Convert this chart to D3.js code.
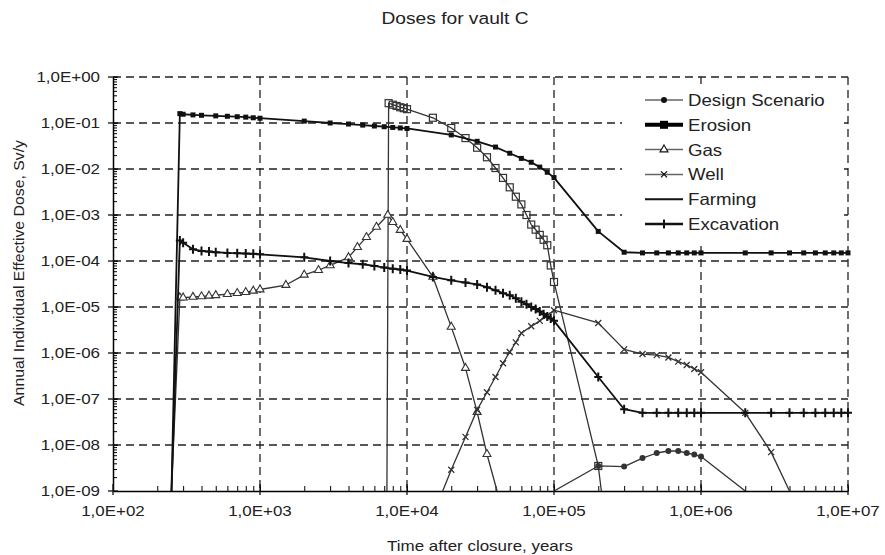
<!DOCTYPE html>
<html>
<head>
<meta charset="utf-8">
<script src="https://cdn.jsdelivr.net/npm/d3@7"></script>
<style>
  body { margin: 0; background: #fff; }
  text { font-family: "Liberation Sans", Arial, sans-serif; fill: #222; }
</style>
</head>
<body>
<script>
// time (years) vs annual dose (Sv/y)
const erosion = [[250,1e-9],[285,0.16],[300,0.155],[350,0.15],[400,0.147],[500,0.143],[600,0.14],[700,0.137],
  [800,0.134],[900,0.13],[1000,0.127],[2000,0.11],[3000,0.1],[4000,0.095],[5000,0.09],[6000,0.086],
  [7000,0.083],[8000,0.08],[9000,0.078],[1e4,0.076],[2e4,0.055],[3e4,0.04],[4e4,0.03],[5e4,0.022],
  [6e4,0.017],[7e4,0.014],[8e4,0.011],[9e4,0.0085],[1e5,0.0065],[2e5,4.4e-4],[3e5,1.55e-4],
  [4e5,1.5e-4],[5e5,1.5e-4],[6e5,1.5e-4],[7e5,1.5e-4],[8e5,1.5e-4],[9e5,1.5e-4],[1e6,1.5e-4],
  [2e6,1.5e-4],[3e6,1.5e-4],[4e6,1.5e-4],[5e6,1.5e-4],[6e6,1.5e-4],[7e6,1.5e-4],[8e6,1.5e-4],[9e6,1.5e-4],[1e7,1.5e-4]];

const farming = [[7300,1e-9],[7500,0.27],[8000,0.25],[8500,0.235],[9000,0.22],[9500,0.21],[1e4,0.2],
  [1.5e4,0.13],[2e4,0.078],[2.5e4,0.047],[3e4,0.029],[3.5e4,0.018],[4e4,0.0105],[4.5e4,0.0064],
  [5e4,0.004],[5.5e4,0.0025],[6e4,0.0017],[6.5e4,0.001],[7e4,6.2e-4],[7.5e4,4.8e-4],[8e4,3.7e-4],
  [8.5e4,2.9e-4],[9e4,2.2e-4],[9.5e4,8e-5],[1e5,3.5e-5],[2e5,3.5e-9],[2.1e5,1e-9]];

const gas = [[250,1e-9],[285,1.6e-5],[300,1.6e-5],[350,1.65e-5],[400,1.7e-5],[450,1.75e-5],[500,1.8e-5],
  [600,1.9e-5],[700,2e-5],[800,2.1e-5],[900,2.25e-5],[1000,2.4e-5],[1500,3e-5],[2000,5e-5],[2500,6.3e-5],
  [3000,8e-5],[4000,1.2e-4],[4600,2e-4],[5300,3.3e-4],[6200,5.5e-4],[7400,1e-3],[8000,7e-4],[9000,4.7e-4],
  [1e4,3e-4],[1.5e4,4.5e-5],[2e4,3.7e-6],[2.5e4,4.7e-7],[3e4,5.2e-8],[3.5e4,6.3e-9],[4.1e4,1e-9]];

const excavation = [[250,1e-9],[285,2.8e-4],[300,2.5e-4],[350,1.8e-4],[400,1.65e-4],[450,1.6e-4],[500,1.55e-4],
  [600,1.5e-4],[700,1.48e-4],[800,1.45e-4],[900,1.43e-4],[1000,1.4e-4],[2000,1.2e-4],[3000,1e-4],[4000,9e-5],
  [5000,8.5e-5],[6000,7.8e-5],[7000,7.2e-5],[8000,6.8e-5],[9000,6.5e-5],[1e4,6.2e-5],[1.5e4,4.5e-5],[2e4,3.8e-5],
  [2.5e4,3.4e-5],[3e4,3.1e-5],[3.5e4,2.7e-5],[4e4,2.3e-5],[4.5e4,2e-5],[5e4,1.8e-5],[5.5e4,1.55e-5],[6e4,1.3e-5],
  [6.5e4,1.15e-5],[7e4,1e-5],[7.5e4,9e-6],[8e4,8e-6],[8.5e4,7e-6],[9e4,6.2e-6],[9.5e4,5.6e-6],[1e5,5e-6],
  [2e5,3e-7],[3e5,6e-8],[4e5,5e-8],[5e5,5e-8],[6e5,5e-8],[7e5,5e-8],[8e5,5e-8],[9e5,5e-8],[1e6,5e-8],
  [2e6,5e-8],[3e6,5e-8],[4e6,5e-8],[5e6,5e-8],[6e6,5e-8],[7e6,5e-8],[8e6,5e-8],[9e6,5e-8],[1e7,5e-8]];

const well = [[1.75e4,1e-9],[2e4,2.9e-9],[2.5e4,1.5e-8],[3e4,5.8e-8],[3.5e4,1.4e-7],[4e4,3e-7],[4.5e4,6e-7],
  [5e4,1.05e-6],[5.5e4,1.7e-6],[6e4,2.7e-6],[7e4,3.8e-6],[8e4,5e-6],[9e4,6.5e-6],[1e5,8.5e-6],[2e5,4.5e-6],
  [3e5,1.2e-6],[4e5,9.5e-7],[5e5,9e-7],[6e5,8e-7],[7e5,6.5e-7],[8e5,5.5e-7],[9e5,4.5e-7],[1e6,3.8e-7],
  [2e6,5e-8],[3e6,7e-9],[4e6,1e-9]];

const design = [[1e5,1e-9],[2e5,3.5e-9],[3e5,3.4e-9],[4e5,5.2e-9],[5e5,6.7e-9],[6e5,7.4e-9],[7e5,7.4e-9],
  [8e5,6.7e-9],[9e5,6.2e-9],[1e6,5.6e-9],[2e6,1e-9]];

const legendNames = ["Design Scenario", "Erosion", "Gas", "Well", "Farming", "Excavation"];
const xTicks = [1e2, 1e3, 1e4, 1e5, 1e6, 1e7];
const yTicks = [1e0, 1e-1, 1e-2, 1e-3, 1e-4, 1e-5, 1e-6, 1e-7, 1e-8, 1e-9];

const width = 885, height = 555;
const mLeft = 113, mRight = 848, mTop = 77, mBottom = 491;

const svg = d3.select("body").append("svg")
    .attr("width", width)
    .attr("height", height);

const x = d3.scaleLog().domain([1e2, 1e7]).range([mLeft, mRight]);
const y = d3.scaleLog().domain([1e-9, 1]).range([mBottom, mTop]);

function fmt(v) {
    const e = Math.round(Math.log10(v));
    return "1,0E" + (e < 0 ? "-" : "+") + String(Math.abs(e)).padStart(2, "0");
}

// text is a bit wider than the font, so stretch it horizontally
function label(g, px, py, str, size, anchor, sx, rot) {
    const t = g.append("g")
        .attr("transform", `translate(${px},${py})` + (rot ? ` rotate(${rot})` : "") + ` scale(${sx},1)`);
    t.append("text")
        .attr("font-size", size)
        .attr("text-anchor", anchor)
        .text(str);
}

// grid
const grid = svg.append("g")
    .attr("stroke", "#222")
    .attr("stroke-width", 1.3)
    .attr("stroke-dasharray", "8,5");
yTicks.filter(v => v > 1e-9).forEach(v => {
    grid.append("line").attr("x1", mLeft).attr("x2", mRight).attr("y1", y(v)).attr("y2", y(v));
});
xTicks.filter(v => v > 1e2).forEach(v => {
    grid.append("line").attr("x1", x(v)).attr("x2", x(v)).attr("y1", mTop).attr("y2", mBottom);
});

// axes
const xAxis = d3.axisTop(x)
    .tickValues(d3.range(2, 7).flatMap(e => d3.range(1, 10).map(m => m * Math.pow(10, e))).concat([1e7]))
    .tickFormat("")
    .tickSize(5)
    .tickSizeOuter(0);
svg.append("g").attr("transform", `translate(0,${mBottom})`).call(xAxis)
    .call(g => g.select(".domain").attr("stroke-width", 1.5));
const yAxis = d3.axisRight(y)
    .tickValues(d3.range(-9, 0).flatMap(e => d3.range(1, 10).map(m => m * Math.pow(10, e))).concat([1]))
    .tickFormat("")
    .tickSize(4)
    .tickSizeOuter(0);
svg.append("g").attr("transform", `translate(${mLeft},0)`).call(yAxis)
    .call(g => g.select(".domain").attr("stroke-width", 1.5));

// major ticks and labels
const majors = svg.append("g").attr("stroke", "#111").attr("stroke-width", 1.3);
xTicks.forEach(v => {
    majors.append("line").attr("x1", x(v)).attr("x2", x(v)).attr("y1", mBottom - 7).attr("y2", mBottom + 4);
    label(svg, x(v), mBottom + 25, fmt(v), 15, "middle", 1.13);
});
yTicks.forEach(v => {
    majors.append("line").attr("x1", mLeft - 5).attr("x2", mLeft + 5).attr("y1", y(v)).attr("y2", y(v));
    label(svg, mLeft - 13, y(v) + 5, fmt(v), 15, "end", 1.13);
});

// series
const series = [
    {data: farming, color: "#333", w: 1.3, marker: "sqOpen"},
    {data: erosion, color: "#111", w: 1.8, marker: "sqFill"},
    {data: gas, color: "#333", w: 1.3, marker: "tri"},
    {data: well, color: "#333", w: 1.3, marker: "x"},
    {data: excavation, color: "#111", w: 1.8, marker: "plus"},
    {data: design, color: "#333", w: 1.3, marker: "dot"}
];

svg.append("clipPath").attr("id", "plot")
    .append("rect").attr("x", mLeft).attr("y", mTop - 5).attr("width", mRight - mLeft + 5).attr("height", mBottom - mTop + 5);

const line = d3.line().x(d => x(d[0])).y(d => y(d[1]));
const plot = svg.append("g").attr("clip-path", "url(#plot)");

function drawMarker(g, type, px, py, color) {
    if (type === "sqFill") {
        g.append("rect").attr("x", px - 2.5).attr("y", py - 2.5).attr("width", 5).attr("height", 5).attr("fill", color);
    } else if (type === "sqOpen") {
        g.append("rect").attr("x", px - 3.5).attr("y", py - 3.5).attr("width", 7).attr("height", 7)
            .attr("fill", "none").attr("stroke", color).attr("stroke-width", 1.2);
    } else if (type === "tri") {
        g.append("path").attr("transform", `translate(${px},${py})`)
            .attr("d", d3.symbol(d3.symbolTriangle, 28)())
            .attr("fill", "#fff").attr("stroke", color).attr("stroke-width", 1.1);
    } else if (type === "x") {
        g.append("path").attr("d", `M${px-3},${py-3}L${px+3},${py+3}M${px-3},${py+3}L${px+3},${py-3}`)
            .attr("stroke", color).attr("stroke-width", 1.3);
    } else if (type === "plus") {
        g.append("path").attr("d", `M${px-4},${py}L${px+4},${py}M${px},${py-4.5}L${px},${py+4.5}`)
            .attr("stroke", color).attr("stroke-width", 2);
    } else if (type === "dot") {
        g.append("circle").attr("cx", px).attr("cy", py).attr("r", 3).attr("fill", color);
    }
}

series.forEach(s => {
    plot.append("path")
        .attr("d", line(s.data))
        .attr("fill", "none")
        .attr("stroke", s.color)
        .attr("stroke-width", s.w)
        .attr("stroke-linejoin", "round");
    s.data.filter(d => d[1] > 1.05e-9).forEach(d => drawMarker(plot, s.marker, x(d[0]), y(d[1]), s.color));
});

// legend
const legendStyles = [
    {color: "#666", w: 1.5, marker: "dot"},
    {color: "#000", w: 4, marker: "sqFill"},
    {color: "#666", w: 1.5, marker: "tri"},
    {color: "#666", w: 1.5, marker: "x"},
    {color: "#111", w: 2, marker: "none"},
    {color: "#111", w: 2.5, marker: "plus"}
];
const lg = svg.append("g");
lg.append("rect").attr("x", 622).attr("y", 84).attr("width", 222).attr("height", 157).attr("fill", "#fff");
legendNames.forEach((name, i) => {
    const ly = 100 + i * 24.8;
    const st = legendStyles[i];
    lg.append("line").attr("x1", 645).attr("x2", 683).attr("y1", ly).attr("y2", ly)
        .attr("stroke", st.color).attr("stroke-width", st.w);
    if (st.marker === "sqFill") {
        lg.append("rect").attr("x", 660).attr("y", ly - 4).attr("width", 8).attr("height", 8).attr("fill", "#000");
    } else {
        drawMarker(lg, st.marker, 664, ly, "#111");
    }
    label(lg, 688, ly + 6, name, 16.5, "start", 1.13);
});

// titles
label(svg, 455, 24, "Doses for vault C", 17, "middle", 1.13);
label(svg, 480, 551, "Time after closure, years", 15, "middle", 1.13);
label(svg, 24, 273, "Annual Individual Effective Dose, Sv/y", 14, "middle", 1.13, -90);
</script>
</body>
</html>
